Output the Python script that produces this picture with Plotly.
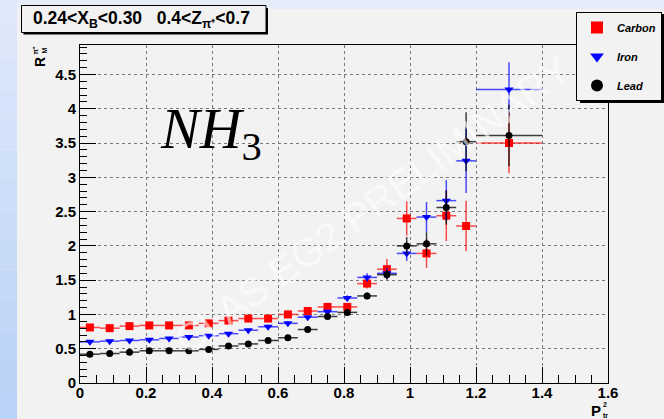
import plotly.graph_objects as go

# ---------------- data ----------------
x_centers = [0.03, 0.09, 0.15, 0.21, 0.27, 0.33, 0.39, 0.45, 0.51, 0.57,
             0.63, 0.69, 0.75, 0.81, 0.87, 0.93, 0.99, 1.05, 1.11, 1.17, 1.30]
x_halfwidth = [0.03] * 20 + [0.10]

carbon_y = [0.81, 0.80, 0.83, 0.84, 0.84, 0.84, 0.87, 0.91, 0.94, 0.94,
            1.00, 1.05, 1.11, 1.11, 1.45, 1.66, 2.40, 1.89, 2.44, 2.29, 3.50]
carbon_err = [0.02, 0.02, 0.02, 0.02, 0.02, 0.02, 0.02, 0.02, 0.03, 0.03,
              0.03, 0.03, 0.04, 0.04, 0.07, 0.15, 0.25, 0.21, 0.37, 0.37, 0.44]

iron_y = [0.60, 0.61, 0.62, 0.63, 0.65, 0.67, 0.69, 0.72, 0.77, 0.82,
          0.87, 0.96, 1.04, 1.24, 1.54, 1.60, 1.89, 2.42, 2.66, 3.24, 4.28]
iron_err = [0.02, 0.02, 0.02, 0.02, 0.02, 0.02, 0.02, 0.02, 0.02, 0.03,
            0.03, 0.03, 0.03, 0.04, 0.06, 0.08, 0.11, 0.22, 0.30, 0.47, 0.40]

lead_y = [0.42, 0.43, 0.45, 0.47, 0.47, 0.47, 0.49, 0.54, 0.57, 0.62,
          0.66, 0.78, 0.97, 1.03, 1.27, 1.58, 2.00, 2.03, 2.56, 3.52, 3.61]
lead_err = [0.01, 0.01, 0.01, 0.01, 0.01, 0.01, 0.02, 0.02, 0.02, 0.02,
            0.02, 0.03, 0.03, 0.04, 0.05, 0.07, 0.13, 0.17, 0.25, 0.43, 0.45]

x_ticks = [0, 0.2, 0.4, 0.6, 0.8, 1.0, 1.2, 1.4, 1.6]
x_ticklabels = ["0", "0.2", "0.4", "0.6", "0.8", "1", "1.2", "1.4", "1.6"]
y_ticks = [0, 0.5, 1, 1.5, 2, 2.5, 3, 3.5, 4, 4.5]
y_ticklabels = ["0", "0.5", "1", "1.5", "2", "2.5", "3", "3.5", "4", "4.5"]

series = [
    ("Carbon", carbon_y, carbon_err, "#ff0000", "rgba(255,0,0,0.7)", "square", 8),
    ("Iron", iron_y, iron_err, "#0000ff", "rgba(0,0,255,0.7)", "triangle-down", 8),
    ("Lead", lead_y, lead_err, "#000000", "rgba(0,0,0,0.75)", "circle", 7),
]

W, H = 664, 419
L, R, T, B = 80, 56, 45, 36
PW, PH = W - L - R, H - T - B


def px(xp):
    return (xp - L) / PW


def py(yp):
    return (H - B - yp) / PH


BG = "#f2f2f2"
FONT = "Liberation Sans"

fig = go.Figure()
for name, yv, ye, col, ecol, sym, size in series:
    fig.add_trace(go.Scatter(
        x=x_centers, y=yv, mode="markers", name=name,
        legendgroup=name,
        marker=dict(symbol=sym, size=size, color=col, line=dict(width=0)),
        error_x=dict(type="data", array=x_halfwidth, width=0, thickness=1.5, color=ecol),
        error_y=dict(type="data", array=ye, width=0, thickness=1.5, color=ecol),
    ))

axis_common = dict(
    showline=True, linecolor="black", linewidth=1, mirror=True,
    ticks="inside", tickcolor="black", ticklen=16, tickwidth=1,
    showgrid=True, gridcolor="#7a7a7a", griddash="dot", gridwidth=1,
    zeroline=False,
    tickfont=dict(family=FONT, size=15, color="black", weight="bold"),
)

fig.update_xaxes(range=[0, 1.6], tickvals=x_ticks, ticktext=x_ticklabels,
                 ticklabelstandoff=-4,
                 minor=dict(dtick=0.05, ticklen=8, tickcolor="black", ticks="inside", showgrid=False),
                 **axis_common)
fig.update_yaxes(range=[0, 4.93], tickvals=y_ticks, ticktext=y_ticklabels,
                 minor=dict(dtick=0.1, ticklen=7, tickcolor="black", ticks="inside", showgrid=False),
                 **axis_common)

shapes = []
# left blue gradient strip
n = 14
for i in range(n):
    t0 = i / (n - 1)
    r = int(222 - 36 * t0)
    g = int(232 - 22 * t0)
    b = int(250 - 3 * t0)
    shapes.append(dict(type="rect", xref="paper", yref="paper",
                       x0=px(0), x1=px(17), y0=py(H * (i + 1) / n), y1=py(H * i / n),
                       fillcolor=f"rgb({r},{g},{b})", line=dict(width=0), layer="below"))
# top pale strip
shapes.append(dict(type="rect", xref="paper", yref="paper",
                   x0=px(17), x1=px(W), y0=py(9), y1=py(0),
                   fillcolor="#e6ecf9", line=dict(width=0), layer="below"))
# title box shadow + box
shapes.append(dict(type="rect", xref="paper", yref="paper",
                   x0=px(23.5), x1=px(268), y0=py(34.5), y1=py(8),
                   fillcolor="black", line=dict(width=0)))
shapes.append(dict(type="rect", xref="paper", yref="paper",
                   x0=px(21.5), x1=px(266), y0=py(32.5), y1=py(5.5),
                   fillcolor=BG, line=dict(color="black", width=1)))
# legend shadow
shapes.append(dict(type="rect", xref="paper", yref="paper",
                   x0=px(580), x1=px(664), y0=py(103), y1=py(14),
                   fillcolor="black", line=dict(width=0)))


def ann(text, xp, yp, size, xa="center", ya="middle", angle=0, family=FONT,
        color="black", weight="bold", style="normal"):
    return dict(text=text, xref="paper", yref="paper", x=px(xp), y=py(yp),
                xanchor=xa, yanchor=ya, textangle=angle, showarrow=False,
                font=dict(family=family, size=size, color=color, weight=weight, style=style))


annotations = [
    ann("0.24&lt;X<sub>B</sub>&lt;0.30&nbsp;&nbsp;&nbsp;0.4&lt;Z<sub>π⁺</sub>&lt;0.7",
        31, 19, 17.5, xa="left"),
    # y title
    ann("R", 40, 62, 14, angle=-90),
    ann("M", 44.5, 51, 7, angle=-90),
    ann("π⁺", 35.5, 51, 7, angle=-90),
    # x title
    ann("P", 596, 410, 15),
    ann("2", 605, 404, 7),
    ann("tr", 605, 415, 7),
    # NH3
    ann("<i>NH</i><sub>3</sub>", 158, 132, 58, xa="left", family="Liberation Serif",
        weight="normal"),
    # watermark
    ann("CLAS EG2 PRELIMINARY", 372, 205, 40, angle=-36,
        color="rgba(255,255,255,0.6)", weight="normal"),
]

fig.update_layout(
    width=W, height=H,
    margin=dict(l=L, r=R, t=T, b=B, autoexpand=False),
    paper_bgcolor=BG, plot_bgcolor=BG,
    shapes=shapes, annotations=annotations,
    showlegend=True,
    legend=dict(x=px(662), y=py(12), xanchor="right", yanchor="top",
                bgcolor=BG, bordercolor="black", borderwidth=1,
                font=dict(family=FONT, size=11, color="black", weight="bold", style="italic"),
                itemsizing="constant", tracegroupgap=10),
)

fig.write_html("out.html")
